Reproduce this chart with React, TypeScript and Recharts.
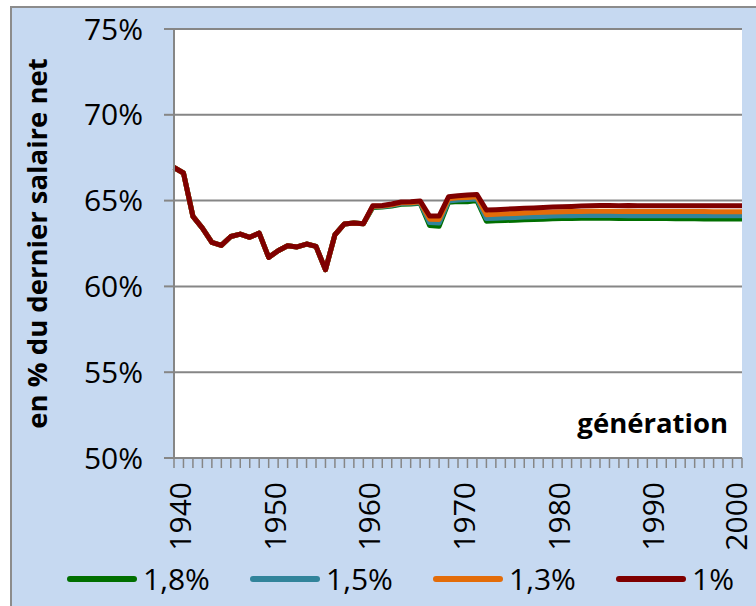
import React from 'react';
import { LineChart, Line, XAxis, YAxis, CartesianGrid, Legend, Label } from 'recharts';

const years = [
  1940, 1941, 1942, 1943, 1944, 1945, 1946, 1947, 1948, 1949,
  1950, 1951, 1952, 1953, 1954, 1955, 1956, 1957, 1958, 1959,
  1960, 1961, 1962, 1963, 1964, 1965, 1966, 1967, 1968, 1969,
  1970, 1971, 1972, 1973, 1974, 1975, 1976, 1977, 1978, 1979,
  1980, 1981, 1982, 1983, 1984, 1985, 1986, 1987, 1988, 1989,
  1990, 1991, 1992, 1993, 1994, 1995, 1996, 1997, 1998, 1999,
  2000,
];

const labelYears = [1940, 1950, 1960, 1970, 1980, 1990, 2000];
const yTicks = [50, 55, 60, 65, 70, 75];

// 1,8 %
const s18 = [
  66.93, 66.61, 64.08, 63.40, 62.56, 62.39, 62.91, 63.05, 62.86, 63.11,
  61.69, 62.08, 62.37, 62.30, 62.47, 62.33, 60.97, 63.01, 63.64, 63.69,
  63.65, 64.60, 64.62, 64.68, 64.78, 64.80, 64.84, 63.55, 63.50, 64.90,
  64.95, 64.93, 65.00, 63.80, 63.82, 63.84, 63.86, 63.88, 63.90, 63.92,
  63.94, 63.95, 63.96, 63.97, 63.97, 63.97, 63.97, 63.96, 63.96, 63.96,
  63.95, 63.95, 63.95, 63.94, 63.94, 63.94, 63.93, 63.93, 63.93, 63.93,
  63.93,
];
// 1,5 %
const s15 = [
  66.93, 66.61, 64.08, 63.40, 62.56, 62.39, 62.91, 63.05, 62.86, 63.11,
  61.69, 62.08, 62.37, 62.30, 62.47, 62.33, 60.97, 63.01, 63.64, 63.69,
  63.65, 64.64, 64.66, 64.72, 64.83, 64.84, 64.88, 63.72, 63.70, 64.98,
  65.04, 65.06, 65.10, 63.95, 63.97, 64.00, 64.02, 64.04, 64.06, 64.08,
  64.10, 64.11, 64.12, 64.13, 64.13, 64.13, 64.13, 64.13, 64.12, 64.12,
  64.12, 64.12, 64.12, 64.11, 64.11, 64.11, 64.11, 64.11, 64.11, 64.11,
  64.11,
];
// 1,3 %
const s13 = [
  66.93, 66.61, 64.08, 63.40, 62.56, 62.39, 62.91, 63.05, 62.86, 63.11,
  61.69, 62.08, 62.37, 62.30, 62.47, 62.33, 60.97, 63.01, 63.64, 63.69,
  63.65, 64.67, 64.69, 64.76, 64.87, 64.88, 64.93, 63.92, 63.90, 65.10,
  65.16, 65.18, 65.22, 64.18, 64.20, 64.23, 64.25, 64.28, 64.30, 64.32,
  64.34, 64.35, 64.36, 64.37, 64.38, 64.38, 64.38, 64.37, 64.38, 64.37,
  64.37, 64.37, 64.36, 64.36, 64.36, 64.36, 64.36, 64.35, 64.35, 64.35,
  64.35,
];
// 1 %
const s10 = [
  66.93, 66.61, 64.08, 63.40, 62.56, 62.39, 62.91, 63.05, 62.86, 63.11,
  61.69, 62.08, 62.37, 62.30, 62.47, 62.33, 60.97, 63.01, 63.64, 63.69,
  63.65, 64.70, 64.72, 64.80, 64.92, 64.93, 64.98, 64.10, 64.10, 65.22,
  65.28, 65.32, 65.36, 64.45, 64.47, 64.50, 64.52, 64.55, 64.57, 64.60,
  64.62, 64.64, 64.66, 64.68, 64.70, 64.71, 64.71, 64.70, 64.71, 64.70,
  64.70, 64.70, 64.70, 64.70, 64.70, 64.70, 64.70, 64.70, 64.70, 64.70,
  64.70,
];

const seriesNames = ['1,8%', '1,5%', '1,3%', '1%'];
const seriesColors = ['#006F00', '#31849B', '#E36C09', '#7F0000'];
const seriesValues = [s18, s15, s13, s10];
const seriesKeys = ['r18', 'r15', 'r13', 'r10'];

const data = years.map((year, i) => {
  const row: any = { year };
  seriesKeys.forEach((k, j) => {
    row[k] = seriesValues[j][i];
  });
  return row;
});

const FONT = '"Open Sans", sans-serif';
const GRID = '#868686';

const XTick = (props: any) => {
  const { x, y, payload } = props;
  if (!labelYears.includes(payload.value)) return <g />;
  const isLast = payload.value === labelYears[labelYears.length - 1];
  const dx = isLast ? 5 : 17;
  return (
    <text
      transform={`translate(${x + dx},${y}) rotate(-90)`}
      textAnchor="end"
      fontSize={30}
      fontFamily={FONT}
      fill="#000"
    >
      {payload.value}
    </text>
  );
};

const LegendContent = () => (
  <div
    style={{
      height: 44,
      display: 'flex',
      alignItems: 'center',
      paddingLeft: 67,
      fontFamily: FONT,
      fontSize: 30,
      color: '#000',
    }}
  >
    {seriesNames.map((n, i) => (
      <div key={n} style={{ display: 'flex', alignItems: 'center', width: 183, flex: '0 0 183px' }}>
        <div
          style={{
            width: 70,
            height: 6,
            borderRadius: 3,
            background: seriesColors[i],
            marginRight: 6,
          }}
        />
        <span style={{ lineHeight: '44px', whiteSpace: 'nowrap' }}>{n}</span>
      </div>
    ))}
  </div>
);

export default function App() {
  return (
    <div style={{ position: 'absolute', left: 0, top: 0, width: 756, height: 606, background: '#fff', overflow: 'hidden' }}>
      <div
        style={{
          position: 'absolute',
          left: 10,
          top: 6,
          width: 760,
          height: 610,
          background: '#C6D9F1',
          border: '2px solid #8C8C8C',
        }}
      />
      <div style={{ position: 'absolute', left: 0, top: 0 }}>
        <LineChart width={756} height={606} data={data} margin={{ top: 29, right: 14, left: 0, bottom: 5 }}>
          <CartesianGrid vertical={false} stroke={GRID} strokeWidth={2} fill="#fff" />
          <XAxis
            dataKey="year"
            type="number"
            domain={[1940, 2000]}
            ticks={years}
            interval={0}
            tickSize={10}
            tickMargin={14}
            height={99}
            axisLine={{ stroke: GRID, strokeWidth: 2 }}
            tickLine={{ stroke: GRID, strokeWidth: 1.5 }}
            tick={<XTick />}
          >
            <Label
              content={(p: any) => {
                const vb = p.viewBox;
                return (
                  <text
                    x={vb.x + vb.width - 14}
                    y={vb.y - 25}
                    textAnchor="end"
                    fontFamily={FONT}
                    fontWeight="bold"
                    fontSize={27.5}
                    fill="#000"
                  >
                    génération
                  </text>
                );
              }}
            />
          </XAxis>
          <YAxis
            width={174}
            domain={[50, 75]}
            ticks={yTicks}
            interval={0}
            tickFormatter={(v: number) => `${v}%`}
            tickSize={10}
            tickMargin={21}
            axisLine={{ stroke: GRID, strokeWidth: 2 }}
            tickLine={{ stroke: GRID, strokeWidth: 2 }}
            tick={{ fontSize: 30, fontFamily: FONT, fill: '#000' }}
          >
            <Label
              content={(p: any) => {
                const vb = p.viewBox;
                const cx = vb.x + 47;
                const cy = vb.y + vb.height / 2;
                return (
                  <text
                    x={cx}
                    y={cy}
                    transform={`rotate(-90, ${cx}, ${cy})`}
                    textAnchor="middle"
                    fontFamily={FONT}
                    fontWeight="bold"
                    fontSize={27.5}
                    fill="#000"
                  >
                    en % du dernier salaire net
                  </text>
                );
              }}
            />
          </YAxis>
          {seriesKeys.map((k, i) => (
            <Line
              key={k}
              type="linear"
              dataKey={k}
              name={seriesNames[i]}
              stroke={seriesColors[i]}
              strokeWidth={5}
              strokeLinejoin="round"
              dot={false}
              activeDot={false}
              isAnimationActive={false}
            />
          ))}
          <Legend
            verticalAlign="bottom"
            content={<LegendContent />}
            wrapperStyle={{ left: 0, width: 756 }}
          />
        </LineChart>
      </div>
    </div>
  );
}
